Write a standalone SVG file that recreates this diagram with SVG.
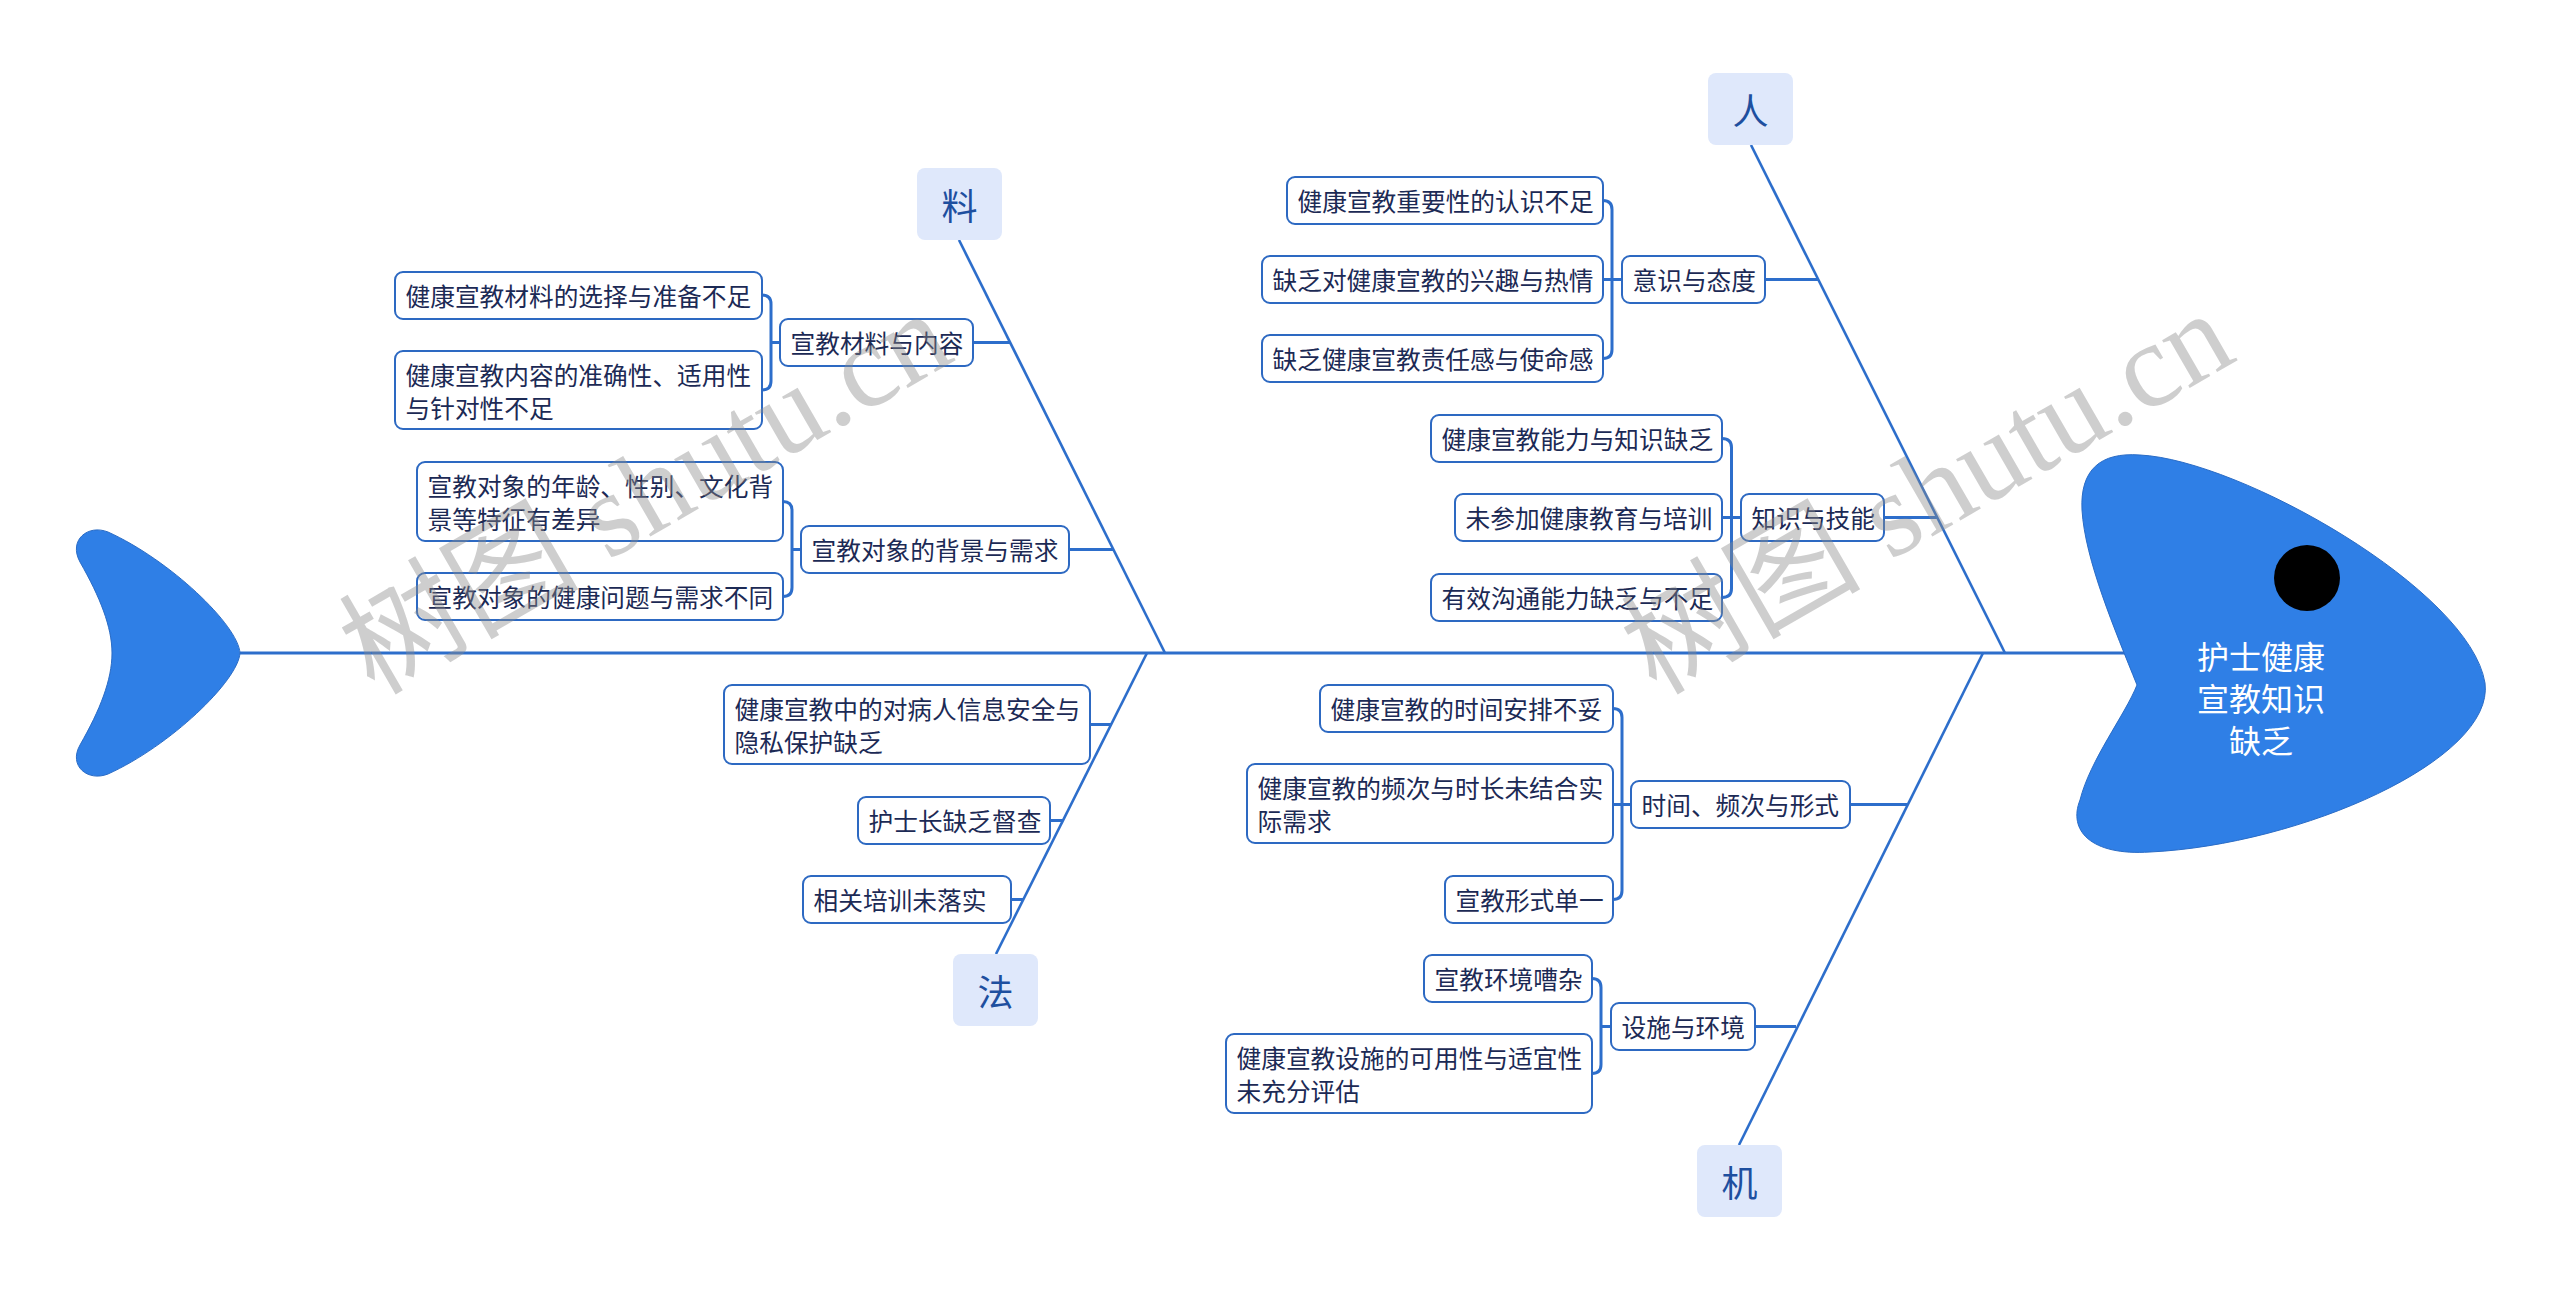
<svg xmlns="http://www.w3.org/2000/svg" width="2560" height="1291" viewBox="0 0 2560 1291">
<style>
.ln{stroke:#2d6ecb;fill:none;stroke-linecap:butt}
.spine{stroke-width:3}
.bone{stroke-width:2.6}
.link{stroke-width:3}
.box rect{fill:#ffffff;stroke:#2d69c2;stroke-width:2}
.box text{font-family:"Noto Sans CJK SC","Noto Sans",sans-serif;font-size:24.7px;fill:#1c2a55;dominant-baseline:central}
.cat rect{fill:#dfe8fb}
.cat text{font-family:"Noto Sans CJK SC","Noto Sans",sans-serif;font-size:36px;fill:#1e4f9f;text-anchor:middle;dominant-baseline:central}
.fish{fill:#2f7fe6;stroke:#2a6cc6;stroke-width:1}
.htext{font-family:"Noto Sans CJK SC","Noto Sans",sans-serif;font-size:32px;fill:#ffffff;text-anchor:middle;dominant-baseline:central}
.wm{font-family:"Liberation Serif","Noto Sans CJK SC",serif;font-size:120px;fill:#8a8a8a;fill-opacity:0.42}
</style>
<rect x="0" y="0" width="2560" height="1291" fill="#ffffff"/>

<g id="connectors">
  <path class="ln spine" d="M240,653 H2128"/>
  <path class="ln bone" d="M1751,145 L2005,653"/>
  <path class="ln bone" d="M959,240 L1165,653"/>
  <path class="ln bone" d="M1147,653 L996,954"/>
  <path class="ln bone" d="M1983,653 L1739,1145"/>
  <path class="ln link" d="M973,342.5 H1010"/>
  <path class="ln link" d="M1069,549.5 H1114"/>
  <path class="ln link" d="M1765,279.5 H1818"/>
  <path class="ln link" d="M1884,517.5 H1937"/>
  <path class="ln link" d="M1090,724.5 H1111"/>
  <path class="ln link" d="M1050,820.5 H1063"/>
  <path class="ln link" d="M1011,899.5 H1024"/>
  <path class="ln link" d="M1850,804.5 H1907"/>
  <path class="ln link" d="M1755,1026.5 H1796"/>
  <path class="ln link" d="M762,295 Q771,295 771,304 V381 Q771,390 762,390 M771,342.5 H780"/>
  <path class="ln link" d="M783,501.5 Q792,501.5 792,510.5 V587.5 Q792,596.5 783,596.5 M792,549.5 H801"/>
  <path class="ln link" d="M1603,200.5 Q1612,200.5 1612,209.5 V349.5 Q1612,358.5 1603,358.5 M1603,279.5 H1622"/>
  <path class="ln link" d="M1722,438.5 Q1731.5,438.5 1731.5,447.5 V588.5 Q1731.5,597.5 1722,597.5 M1722,517.5 H1741"/>
  <path class="ln link" d="M1613,708.5 Q1622,708.5 1622,717.5 V890.5 Q1622,899.5 1613,899.5 M1613,804.5 H1631"/>
  <path class="ln link" d="M1592,978.5 Q1601,978.5 1601,987.5 V1064.5 Q1601,1073.5 1592,1073.5 M1601,1026.5 H1611"/>
</g>

<g id="tail">
  <path class="fish" d="M240,653 C238,625 170,560 108,532 C88,524 68,540 80,562 C100,597 112,627 112,653 C112,680 100,710 80,745 C68,766 88,782 108,774 C170,746 238,681 240,653 Z"/>
</g>

<g id="head">
  <path class="fish" d="M2137,685 C2115,630 2085,560 2082,510 C2080,470 2100,452 2140,455 C2240,460 2470,590 2485,683 C2495,760 2300,845 2150,852 C2090,856 2068,830 2080,800 C2090,760 2125,715 2137,685 Z"/>
  <circle cx="2307" cy="578" r="33" fill="#000000"/>
  <text class="htext" x="2261" y="655">护士健康</text>
  <text class="htext" x="2261" y="697">宣教知识</text>
  <text class="htext" x="2261" y="739">缺乏</text>
</g>

<g id="cat-ren" class="cat"><rect x="1708" y="73" width="85" height="72" rx="8"/><text x="1750.5" y="109">人</text></g>
<g id="cat-liao" class="cat"><rect x="917" y="168" width="85" height="72" rx="8"/><text x="959.5" y="204">料</text></g>
<g id="cat-fa" class="cat"><rect x="953" y="954" width="85" height="72" rx="8"/><text x="995.5" y="990">法</text></g>
<g id="cat-ji" class="cat"><rect x="1697" y="1145" width="85" height="72" rx="8"/><text x="1739.5" y="1181">机</text></g>

<g id="n-liao1" class="box"><rect x="780" y="319" width="193" height="47" rx="8"/><text x="790.5" y="342">宣教材料与内容</text></g>
<g id="n-liao1a" class="box"><rect x="395" y="272" width="367" height="47" rx="8"/><text x="405.5" y="295">健康宣教材料的选择与准备不足</text></g>
<g id="n-liao1b" class="box"><rect x="395" y="351" width="367" height="78" rx="8"/><text x="405.5" y="373.5">健康宣教内容的准确性、适用性</text><text x="405.5" y="406.5">与针对性不足</text></g>
<g id="n-liao2" class="box"><rect x="801" y="526" width="268" height="47" rx="8"/><text x="811.5" y="549">宣教对象的背景与需求</text></g>
<g id="n-liao2a" class="box"><rect x="417" y="462" width="366" height="79" rx="8"/><text x="427.5" y="484.5">宣教对象的年龄、性别、文化背</text><text x="427.5" y="517.5">景等特征有差异</text></g>
<g id="n-liao2b" class="box"><rect x="417" y="573" width="366" height="47" rx="8"/><text x="427.5" y="596">宣教对象的健康问题与需求不同</text></g>

<g id="n-ren1" class="box"><rect x="1622" y="256" width="143" height="47" rx="8"/><text x="1632.5" y="279">意识与态度</text></g>
<g id="n-ren1a" class="box"><rect x="1287" y="177" width="316" height="47" rx="8"/><text x="1297.5" y="200">健康宣教重要性的认识不足</text></g>
<g id="n-ren1b" class="box"><rect x="1262" y="256" width="341" height="47" rx="8"/><text x="1272.5" y="279">缺乏对健康宣教的兴趣与热情</text></g>
<g id="n-ren1c" class="box"><rect x="1262" y="335" width="341" height="47" rx="8"/><text x="1272.5" y="358">缺乏健康宣教责任感与使命感</text></g>
<g id="n-ren2" class="box"><rect x="1741" y="494" width="143" height="47" rx="8"/><text x="1751.5" y="517">知识与技能</text></g>
<g id="n-ren2a" class="box"><rect x="1431" y="415" width="291" height="47" rx="8"/><text x="1441.5" y="438">健康宣教能力与知识缺乏</text></g>
<g id="n-ren2b" class="box"><rect x="1455" y="494" width="267" height="47" rx="8"/><text x="1465.5" y="517">未参加健康教育与培训</text></g>
<g id="n-ren2c" class="box"><rect x="1431" y="574" width="291" height="47" rx="8"/><text x="1441.5" y="597">有效沟通能力缺乏与不足</text></g>

<g id="n-fa1" class="box"><rect x="724" y="685" width="366" height="79" rx="8"/><text x="734.5" y="707.5">健康宣教中的对病人信息安全与</text><text x="734.5" y="740.5">隐私保护缺乏</text></g>
<g id="n-fa2" class="box"><rect x="858" y="797" width="192" height="47" rx="8"/><text x="868.5" y="820">护士长缺乏督查</text></g>
<g id="n-fa3" class="box"><rect x="803" y="876" width="208" height="47" rx="8"/><text x="813.5" y="899">相关培训未落实</text></g>

<g id="n-ji1" class="box"><rect x="1631" y="781" width="219" height="47" rx="8"/><text x="1641.5" y="804">时间、频次与形式</text></g>
<g id="n-ji1a" class="box"><rect x="1320" y="685" width="293" height="47" rx="8"/><text x="1330.5" y="708">健康宣教的时间安排不妥</text></g>
<g id="n-ji1b" class="box"><rect x="1247" y="764" width="366" height="79" rx="8"/><text x="1257.5" y="786.5">健康宣教的频次与时长未结合实</text><text x="1257.5" y="819.5">际需求</text></g>
<g id="n-ji1c" class="box"><rect x="1445" y="876" width="168" height="47" rx="8"/><text x="1455.5" y="899">宣教形式单一</text></g>
<g id="n-ji2" class="box"><rect x="1611" y="1003" width="144" height="47" rx="8"/><text x="1621.5" y="1026">设施与环境</text></g>
<g id="n-ji2a" class="box"><rect x="1424" y="955" width="168" height="47" rx="8"/><text x="1434.5" y="978">宣教环境嘈杂</text></g>
<g id="n-ji2b" class="box"><rect x="1226" y="1034" width="366" height="79" rx="8"/><text x="1236.5" y="1056.5">健康宣教设施的可用性与适宜性</text><text x="1236.5" y="1089.5">未充分评估</text></g>

<g id="watermark">
  <text class="wm" x="374" y="696" transform="rotate(-30 374 696)">树图 shutu.cn</text>
  <text class="wm" x="1656" y="696" transform="rotate(-30 1656 696)">树图 shutu.cn</text>
</g>
</svg>
